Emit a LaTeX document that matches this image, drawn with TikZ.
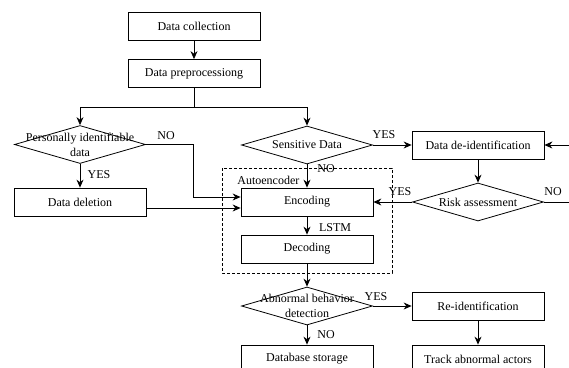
\documentclass[tikz,border=0pt]{standalone}
\usepackage{fontspec}
\setmainfont{Liberation Serif}
\usetikzlibrary{shapes.geometric,arrows.meta}
\begin{document}
\begin{tikzpicture}[x=1pt,y=-1pt,line width=.8pt,
  font=\fontsize{12}{15}\selectfont,
  box/.style={draw,minimum width=132pt,minimum height=28pt,inner sep=0pt},
  decision/.style={draw,diamond,minimum width=131pt,minimum height=38pt,inner sep=0pt},
  arr/.style={-{Stealth[length=8pt,width=7pt]}},
  lbl/.style={inner sep=0pt}]
\useasboundingbox (0,0) rectangle (569,367);

\node[box] (collect) at (194,26.5) {Data collection};
\node[box] (preproc) at (194,73.5) {Data preprocessiong};
\node[decision,label={[align=center]center:Personally identifiable\\data}] (pid) at (80,144.5) {};
\node[box] (pdel) at (80,202) {Data deletion};
\node[decision,label=center:Sensitive Data] (sens) at (307,145) {};
\node[box] (deid) at (478,145) {Data de-identification};
\node[decision,label=center:Risk assessment] (risk) at (478,202) {};
\node[box] (enc) at (307,202) {Encoding};
\node[box] (dec) at (307,249) {Decoding};
\node[decision,label={[align=center]center:Abnormal behavior\\detection}] (abn) at (307,306) {};
\node[box] (reid) at (478,306) {Re-identification};
\node[box] (db) at (307,359) {Database storage};
\node[box] (track) at (478,359) {Track abnormal actors};

\draw[dashed,dash pattern=on 3pt off 2pt,line width=.7pt] (222,168) rectangle (392,273);
\node[lbl,anchor=west] (autolbl) at (237,180) {Autoencoder};

\coordinate (split) at (194,107);
\coordinate (inr) at (569,145);
\coordinate (outr) at (569,202);

\draw[arr] (collect) -- (preproc);
\draw (preproc) -- (split);
\draw[arr] (split) -| (pid.north);
\draw[arr] (split) -| (sens.north);
\draw[arr] (pid) -- (pdel);
\draw[arr] (pid.east) -- ++(47,0) |- ([yshift=5pt]enc.west);
\draw[arr] ([yshift=-6pt]pdel.east) -- ([yshift=-6pt]enc.west);
\draw[arr] (sens) -- (enc);
\draw[arr] (sens) -- (deid);
\draw[arr] (inr) -- (deid);
\draw[arr] (deid) -- (risk);
\draw[arr] (risk) -- (enc);
\draw (risk) -- (outr);
\draw[arr] (enc) -- (dec);
\draw[arr] (dec) -- (abn);
\draw[arr] (abn) -- (reid);
\draw[arr] (abn) -- (db);
\draw[arr] (reid) -- (track);

\node[lbl] (pidyes) at (99,175) {YES};
\node[lbl] (pidno) at (166,136) {NO};
\node[lbl] (sensyes) at (384,135) {YES};
\node[lbl] (sensno) at (326,169) {NO};
\node[lbl] (riskyes) at (400,192) {YES};
\node[lbl] (riskno) at (553,192) {NO};
\node[lbl] (lstm) at (335,228) {LSTM};
\node[lbl] (abnyes) at (376,297) {YES};
\node[lbl] (abnno) at (326,335) {NO};

\end{tikzpicture}
\end{document}
